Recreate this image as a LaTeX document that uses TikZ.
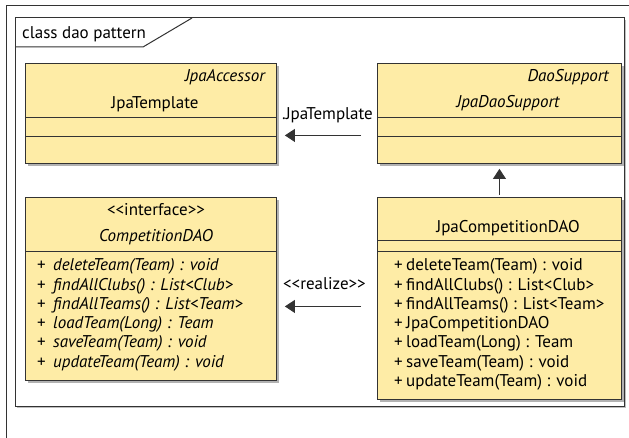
\documentclass[tikz,border=0pt]{standalone}
\usepackage{fontspec}
\setmainfont{PT Sans}
\usepackage{xcolor}
\usetikzlibrary{arrows.meta,positioning,calc,shadows}
\definecolor{umlyellow}{RGB}{254,236,166}
\definecolor{umlline}{RGB}{51,51,51}
\tikzset{
  classbox/.style={draw=umlline, line width=0.9pt, fill=umlyellow, anchor=north west,
    inner sep=0pt, drop shadow={shadow xshift=3pt, shadow yshift=-3pt, fill=black!30, opacity=1}},
  frame/.style={draw=umlline, line width=1pt},
  sep/.style={draw=umlline, line width=0.9pt},
  txt/.style={font=\fontsize{17}{19}\selectfont, inner sep=0pt},
  itxt/.style={txt, font=\fontsize{17}{19}\selectfont\itshape},
  lbl/.style={txt},
  flow/.style={-{Triangle[length=10pt, width=13pt]}, line width=1pt, umlline}
}
\newcommand{\lguil}{<\kern0pt<}
\newcommand{\rguil}{>\kern0pt>}

\begin{document}
\begin{tikzpicture}[x=1pt, y=-1pt]
  \useasboundingbox (0,0) rectangle (629,438);

  % diagram frame
  \draw[frame] (6,438) -- (6,6) -- (629,6);
  \path[frame, fill=white, drop shadow={shadow xshift=2pt, shadow yshift=-2pt, fill=black!25, opacity=1}]
    (15,18) rectangle (624,406);
  \draw[frame] (15,47) -- (143,47) -- (192,18);
  \node[txt, anchor=base west] (title) at (22,39) {class dao pattern};

  % classes
  \node[classbox, minimum width=251pt, minimum height=100pt] (tmpl) at (25,63) {};
  \node[classbox, minimum width=244pt, minimum height=100pt] (support) at (377,63) {};
  \node[classbox, minimum width=251pt, minimum height=183pt] (iface) at (25,197) {};
  \node[classbox, minimum width=244pt, minimum height=202pt] (jpacomp) at (377,197) {};

  % compartments
  \foreach \b in {tmpl, support}{
    \draw[sep] (\b.west |- 0,117) -- (\b.east |- 0,117);
    \draw[sep] (\b.west |- 0,136) -- (\b.east |- 0,136);
  }
  \draw[sep] (iface.west |- 0,251) -- (iface.east |- 0,251);
  \draw[sep] (jpacomp.west |- 0,240) -- (jpacomp.east |- 0,240);
  \draw[sep] (jpacomp.west |- 0,251) -- (jpacomp.east |- 0,251);

  % class names
  \node[itxt, anchor=base east] (tmplst) at (265,82) {JpaAccessor};
  \node[txt, anchor=base] (tmplname) at (155,109) {JpaTemplate};
  \node[itxt, anchor=base east] (supportst) at (609,82) {DaoSupport};
  \node[itxt, anchor=base] (supportname) at (508,108) {JpaDaoSupport};
  \node[txt, anchor=base] (ifacest) at (156,216) {\lguil interface\rguil};
  \node[itxt, anchor=base] (ifacename) at (156,242) {CompetitionDAO};
  \node[txt, anchor=base] (jpacompname) at (508,233) {JpaCompetitionDAO};

  % operations
  \foreach \m [count=\i from 0] in {deleteTeam(Team) : void, findAllClubs() : List<Club>,
      findAllTeams() : List<Team>, loadTeam(Long) : Team, saveTeam(Team) : void,
      updateTeam(Team) : void}{
    \node[txt, anchor=base west] (ip\i) at (37,{271+19.2*\i}) {+};
    \node[itxt, anchor=base west] (im\i) at (53,{271+19.2*\i}) {\m};
  }
  \foreach \m [count=\i from 0] in {deleteTeam(Team) : void, findAllClubs() : List<Club>,
      findAllTeams() : List<Team>, JpaCompetitionDAO, loadTeam(Long) : Team,
      saveTeam(Team) : void, updateTeam(Team) : void}{
    \node[txt, anchor=base west] (jp\i) at (394,{271+19.2*\i}) {+};
    \node[txt, anchor=base west] (jm\i) at (406,{271+19.2*\i}) {\m};
  }

  % relations
  \draw[flow, shorten <=16pt, shorten >=8pt] ([yshift=-22pt]support.west) -- ([yshift=-22pt]tmpl.east);
  \node[lbl, anchor=base east] (accessor) at (373,120) {.JpaTemplate};
  \draw[flow, shorten <=2pt, shorten >=5pt] (jpacomp.north) -- (jpacomp.north |- support.south);
  \draw[flow, shorten <=16pt, shorten >=8pt] ([yshift=-8pt]jpacomp.west) -- ([yshift=-8pt]jpacomp.west -| iface.east);
  \node[lbl, anchor=base east] (realize) at (366,290) {\lguil realize\rguil};
\end{tikzpicture}
\end{document}
